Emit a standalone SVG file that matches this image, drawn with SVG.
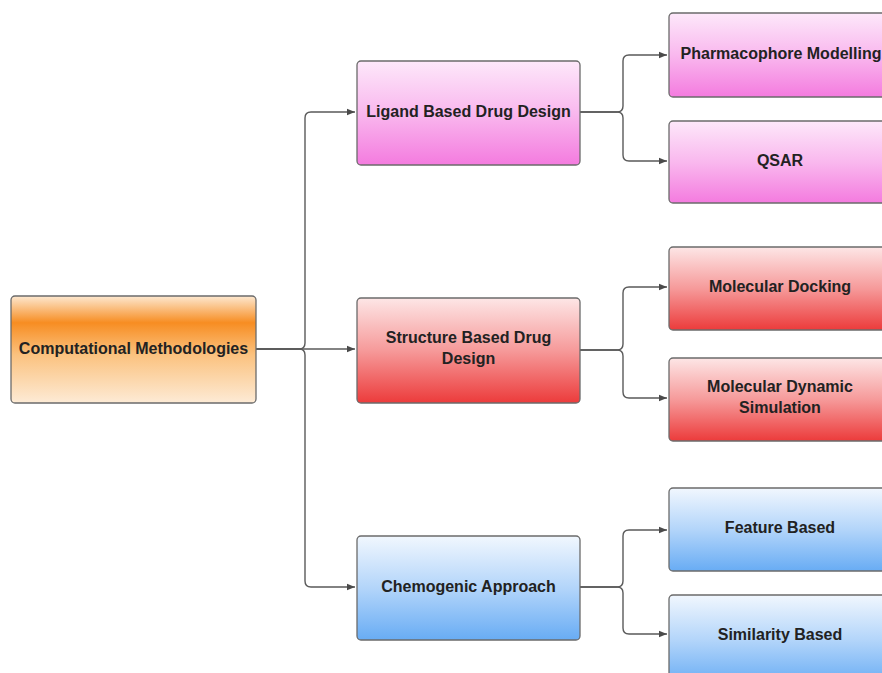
<svg xmlns="http://www.w3.org/2000/svg" width="882" height="673" viewBox="0 0 882 673">
<style>
.box{stroke:#6b6b6b;stroke-width:1.3}
.lbl{font-family:"Liberation Sans",Arial,sans-serif;font-weight:bold;font-size:16px;fill:#222;text-anchor:middle}
.con{fill:none;stroke:#5a5a5a;stroke-width:1.4}
</style>
<defs>
<linearGradient id="gO" x1="0" y1="0" x2="0" y2="1">
<stop offset="0" stop-color="#fde8d0"/>
<stop offset="0.25" stop-color="#f78d22"/>
<stop offset="0.55" stop-color="#fbc27f"/>
<stop offset="1" stop-color="#fdebd6"/>
</linearGradient>
<linearGradient id="gP" x1="0" y1="0" x2="0" y2="1">
<stop offset="0" stop-color="#fde8fa"/>
<stop offset="0.5" stop-color="#f9b8ee"/>
<stop offset="1" stop-color="#f47bdf"/>
</linearGradient>
<linearGradient id="gR" x1="0" y1="0" x2="0" y2="1">
<stop offset="0" stop-color="#fde6e6"/>
<stop offset="0.5" stop-color="#f69a9a"/>
<stop offset="1" stop-color="#ec3b3b"/>
</linearGradient>
<linearGradient id="gB" x1="0" y1="0" x2="0" y2="1">
<stop offset="0" stop-color="#f1f7fe"/>
<stop offset="0.5" stop-color="#b3d5fa"/>
<stop offset="1" stop-color="#68acf4"/>
</linearGradient>
<marker id="arr" viewBox="0 0 10 10" refX="10" refY="5" markerWidth="8" markerHeight="8" markerUnits="userSpaceOnUse" orient="auto">
<path d="M0,1 L10,5 L0,9 z" fill="#4a4a4a"/>
</marker>
</defs>
<g id="connectors">
<path class="con" d="M256,349 H299 Q305,349 305,343 V118 Q305,112 311,112 H355" marker-end="url(#arr)"/>
<path class="con" d="M256,349 H355" marker-end="url(#arr)"/>
<path class="con" d="M256,349 H299 Q305,349 305,355 V581 Q305,587 311,587 H355" marker-end="url(#arr)"/>
<path class="con" d="M580,112 H617 Q623,112 623,106 V61 Q623,55 629,55 H667" marker-end="url(#arr)"/>
<path class="con" d="M580,112 H617 Q623,112 623,118 V155 Q623,161 629,161 H667" marker-end="url(#arr)"/>
<path class="con" d="M580,350 H617 Q623,350 623,344 V293 Q623,287 629,287 H667" marker-end="url(#arr)"/>
<path class="con" d="M580,350 H617 Q623,350 623,356 V392 Q623,398 629,398 H667" marker-end="url(#arr)"/>
<path class="con" d="M580,587 H617 Q623,587 623,581 V536 Q623,530 629,530 H667" marker-end="url(#arr)"/>
<path class="con" d="M580,587 H617 Q623,587 623,593 V628 Q623,634 629,634 H667" marker-end="url(#arr)"/>
</g>
<g id="root">
<rect class="box" x="11" y="296" width="245" height="107" rx="4" fill="url(#gO)"/>
<text class="lbl" x="133.5" y="354">Computational Methodologies</text>
</g>
<g id="ligand">
<rect class="box" x="357" y="61" width="223" height="104" rx="4" fill="url(#gP)"/>
<text class="lbl" x="468.5" y="117">Ligand Based Drug Design</text>
</g>
<g id="structure">
<rect class="box" x="357" y="298" width="223" height="105" rx="4" fill="url(#gR)"/>
<text class="lbl" x="468.5" y="343">Structure Based Drug</text>
<text class="lbl" x="468.5" y="364">Design</text>
</g>
<g id="chemogenic">
<rect class="box" x="357" y="536" width="223" height="104" rx="4" fill="url(#gB)"/>
<text class="lbl" x="468.5" y="592">Chemogenic Approach</text>
</g>
<g id="pharmacophore">
<rect class="box" x="669" y="13" width="222" height="84" rx="4" fill="url(#gP)"/>
<text class="lbl" x="781" y="59">Pharmacophore Modelling</text>
</g>
<g id="qsar">
<rect class="box" x="669" y="121" width="222" height="82" rx="4" fill="url(#gP)"/>
<text class="lbl" x="780" y="166">QSAR</text>
</g>
<g id="docking">
<rect class="box" x="669" y="247" width="222" height="83" rx="4" fill="url(#gR)"/>
<text class="lbl" x="780" y="292">Molecular Docking</text>
</g>
<g id="dynamics">
<rect class="box" x="669" y="358" width="222" height="83" rx="4" fill="url(#gR)"/>
<text class="lbl" x="780" y="392">Molecular Dynamic</text>
<text class="lbl" x="780" y="413">Simulation</text>
</g>
<g id="feature">
<rect class="box" x="669" y="488" width="222" height="83" rx="4" fill="url(#gB)"/>
<text class="lbl" x="780" y="533">Feature Based</text>
</g>
<g id="similarity">
<rect class="box" x="669" y="595" width="222" height="90" rx="4" fill="url(#gB)"/>
<text class="lbl" x="780" y="640">Similarity Based</text>
</g>
</svg>
